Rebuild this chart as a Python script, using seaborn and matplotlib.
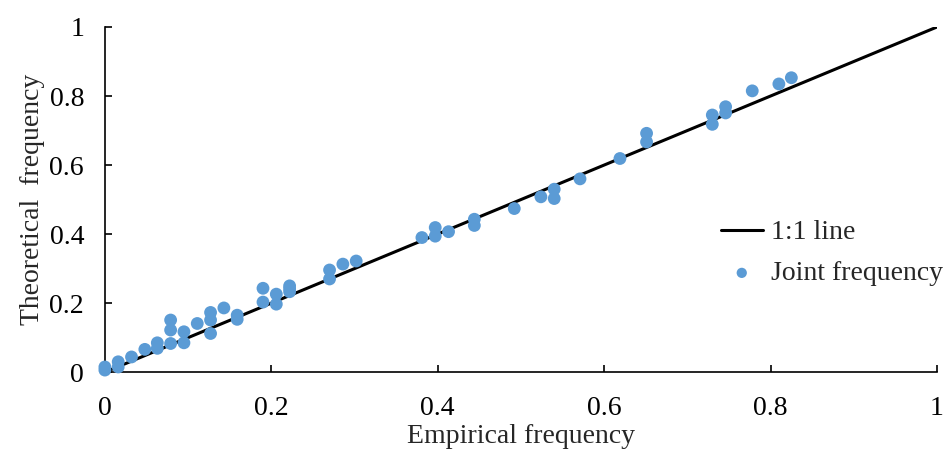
import numpy as np
import pandas as pd
import matplotlib
matplotlib.use("Agg")
import matplotlib.pyplot as plt
import seaborn as sns

# empirical vs theoretical joint frequency
empirical = [0.0, 0.0, 0.016, 0.016, 0.032, 0.048, 0.063, 0.063,
             0.079, 0.079, 0.079, 0.095, 0.095, 0.111, 0.127, 0.127, 0.127,
             0.143, 0.159, 0.159, 0.190, 0.190, 0.206, 0.206,
             0.222, 0.222, 0.222, 0.270, 0.270, 0.286, 0.302,
             0.381, 0.397, 0.397, 0.413, 0.444, 0.444, 0.492, 0.524,
             0.540, 0.540, 0.571, 0.619, 0.651, 0.651, 0.730, 0.730,
             0.746, 0.746, 0.778, 0.810, 0.825]
theoretical = [0.006, 0.015, 0.030, 0.015, 0.044, 0.066, 0.085, 0.069,
               0.151, 0.122, 0.083, 0.117, 0.085, 0.141, 0.173, 0.151, 0.112,
               0.186, 0.165, 0.153, 0.243, 0.203, 0.226, 0.197,
               0.250, 0.242, 0.233, 0.296, 0.270, 0.313, 0.322,
               0.390, 0.419, 0.394, 0.407, 0.443, 0.425, 0.474, 0.508,
               0.530, 0.503, 0.560, 0.619, 0.692, 0.667, 0.745, 0.718,
               0.769, 0.751, 0.815, 0.835, 0.853]
line_x = [0, 1]
line_y = [0, 1]

df = pd.DataFrame({"Empirical": empirical, "Theoretical": theoretical})
line_df = pd.DataFrame({"x": line_x, "y": line_y})

sns.set_style("ticks")
plt.rcParams['font.family'] = ['Liberation Serif', 'DejaVu Serif']
plt.rcParams['font.size'] = 20

fig = plt.figure(figsize=(9.45, 4.5), dpi=100)
ax = fig.add_axes([0.111, 0.173, 0.8805, 0.767])

sns.lineplot(data=line_df, x="x", y="y", color="black", linewidth=2.2,
             label="1:1 line", ax=ax)
sns.scatterplot(data=df, x="Empirical", y="Theoretical", color="#5B9BD5",
                s=85, edgecolor="none", label="Joint frequency", ax=ax,
                zorder=3, clip_on=False)

ax.set_xlim(0, 1)
ax.set_ylim(0, 1)
ax.set_xticks([0, 0.2, 0.4, 0.6, 0.8, 1])
ax.set_yticks([0, 0.2, 0.4, 0.6, 0.8, 1])
ax.set_xticklabels(["0", "0.2", "0.4", "0.6", "0.8", "1"])
ax.set_yticklabels(["0", "0.2", "0.4", "0.6", "0.8", "1"])
ax.tick_params(direction="in", length=5, width=1.2, labelsize=20,
               colors="black")
ax.tick_params(axis="x", pad=17)
ax.tick_params(axis="y", pad=15)
for side in ["top", "right"]:
    ax.spines[side].set_visible(False)
for side in ["left", "bottom"]:
    ax.spines[side].set_color("black")
    ax.spines[side].set_linewidth(1.2)

ax.set_xlabel("Empirical frequency", fontsize=20, labelpad=2)
ax.set_ylabel("Theoretical  frequency", fontsize=20, labelpad=3)

leg = ax.legend(loc="center left", bbox_to_anchor=(0.727, 0.345), frameon=False,
                fontsize=20, handlelength=1.5, handletextpad=0.3,
                labelspacing=0.55, borderaxespad=0, markerscale=0.8)

fig.savefig("out.png", dpi=100)
